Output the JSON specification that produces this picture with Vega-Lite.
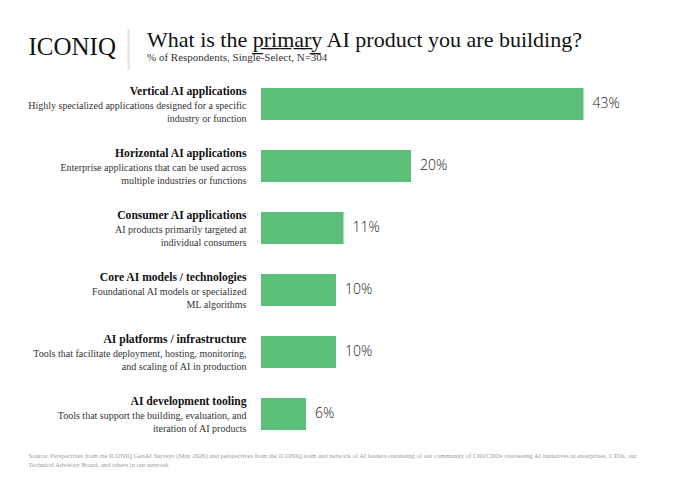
{
  "$schema": "https://vega.github.io/schema/vega-lite/v6.json",
  "width": 375,
  "height": 372,
  "autosize": {"type": "none"},
  "padding": {"left": 261, "top": 73, "right": 44, "bottom": 48},
  "background": "white",
  "title": {
    "text": "What is the p̲r̲i̲m̲a̲r̲y̲ AI product you are building?",
    "subtitle": "% of Respondents, Single-Select, N=304",
    "anchor": "start",
    "frame": "group",
    "dx": -114,
    "dy": 47,
    "offset": 10,
    "font": "Liberation Serif",
    "fontSize": 22,
    "fontWeight": "normal",
    "color": "#111",
    "subtitleFont": "Liberation Serif",
    "subtitleFontSize": 11,
    "subtitleColor": "#333",
    "subtitlePadding": 0
  },
  "data": {
    "values": [
      {"name": "Vertical AI applications", "desc": "Highly specialized applications designed for a specific|industry or function", "value": 43, "label": "43%"},
      {"name": "Horizontal AI applications", "desc": "Enterprise applications that can be used across|multiple industries or functions", "value": 20, "label": "20%"},
      {"name": "Consumer AI applications", "desc": "AI products primarily targeted at|individual consumers", "value": 11, "label": "11%"},
      {"name": "Core AI models / technologies", "desc": "Foundational AI models or specialized|ML algorithms", "value": 10, "label": "10%"},
      {"name": "AI platforms / infrastructure", "desc": "Tools that facilitate deployment, hosting, monitoring,|and scaling of AI in production", "value": 10, "label": "10%"},
      {"name": "AI development tooling", "desc": "Tools that support the building, evaluation, and|iteration of AI products", "value": 6, "label": "6%"}
    ]
  },
  "layer": [
    {
      "mark": {"type": "bar", "color": "#5CBF79"},
      "encoding": {
        "y": {
          "field": "name",
          "type": "nominal",
          "sort": null,
          "scale": {"paddingInner": 0.484, "paddingOuter": 0.242},
          "axis": {
            "orient": "left",
            "title": "ICONIQ",
            "titleAngle": 0,
            "titleX": -233,
            "titleY": -19,
            "titleAlign": "left",
            "titleBaseline": "alphabetic",
            "titleFont": "Liberation Serif",
            "titleFontSize": 25,
            "titleFontWeight": "normal",
            "titleColor": "#111",
            "domain": false,
            "ticks": false,
            "labelPadding": 15,
            "labelOffset": -12,
            "labelFont": "Liberation Serif",
            "labelFontSize": 11.6,
            "labelFontWeight": "bold",
            "labelColor": "#111",
            "labelLimit": 300
          }
        },
        "x": {
          "field": "value",
          "type": "quantitative",
          "scale": {"domain": [0, 50]},
          "axis": {
            "orient": "bottom",
            "domain": false,
            "ticks": false,
            "labels": false,
            "grid": false,
            "title": ["Source: Perspectives from the ICONIQ GenAI Surveys (May 2026) and perspectives from the ICONIQ team and network of AI leaders consisting of our community of CIO/CDOs overseeing AI initiatives in enterprises, CTOs, our", "Technical Advisory Board, and others in our network"],
            "titleX": -233,
            "titleY": 12,
            "titleAlign": "left",
            "titleAnchor": "start",
            "titleBaseline": "alphabetic",
            "titleFont": "Liberation Serif",
            "titleFontSize": 6.6,
            "titleFontWeight": "normal",
            "titleColor": "#999",
            "titleLineHeight": 9
          }
        }
      }
    },
    {
      "mark": {"type": "text", "align": "left", "baseline": "middle", "dx": 9, "font": "Open Sans", "fontSize": 14, "fontWeight": 300, "color": "#222"},
      "encoding": {
        "y": {
          "field": "desc",
          "type": "nominal",
          "sort": null,
          "scale": {"paddingInner": 0.484, "paddingOuter": 0.242},
          "axis": {
            "orient": "left",
            "title": "|",
            "titleAngle": 0,
            "titleX": -133,
            "titleY": -14,
            "titleAlign": "center",
            "titleBaseline": "alphabetic",
            "titleFont": "DejaVu Sans",
            "titleFontSize": 40,
            "titleFontWeight": 100,
            "titleColor": "#e2e2e2",
            "domain": false,
            "ticks": false,
            "labelPadding": 15,
            "labelOffset": 1,
            "labelExpr": "split(datum.value, '|')",
            "labelFont": "Liberation Serif",
            "labelFontSize": 10,
            "labelLineHeight": 13,
            "labelColor": "#333",
            "labelLimit": 300
          }
        },
        "x": {"field": "value", "type": "quantitative"},
        "text": {"field": "label"}
      }
    }
  ],
  "resolve": {"scale": {"y": "independent"}, "axis": {"y": "independent"}},
  "config": {"view": {"stroke": null}, "axis": {"grid": false}}
}
